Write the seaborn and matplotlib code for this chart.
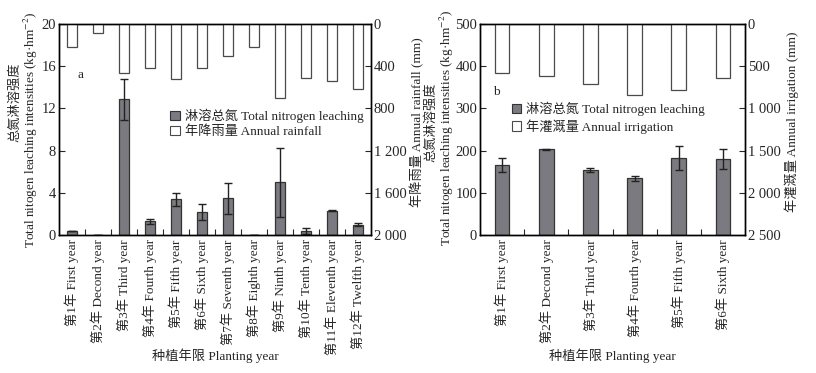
import matplotlib
matplotlib.use("Agg")
import matplotlib.pyplot as plt
import numpy as np
import pandas as pd
import seaborn as sns
from matplotlib.patches import Patch
from matplotlib.ticker import FuncFormatter, MultipleLocator, FixedLocator

# panel a: 12 planting years
years_a = ["第1年 First year", "第2年 Decond year", "第3年 Third year", "第4年 Fourth year",
           "第5年 Fifth year", "第6年 Sixth year", "第7年 Seventh year", "第8年 Eighth year",
           "第9年 Ninth year", "第10年 Tenth year", "第11年 Eleventh year", "第12年 Twelfth year"]
leach_a = [0.35, 0.0, 12.86, 1.3, 3.37, 2.19, 3.46, 0.0, 5.0, 0.35, 2.3, 0.98]
leach_err_a = [0.0, 0.0, 1.95, 0.22, 0.6, 0.78, 1.47, 0.0, 3.27, 0.3, 0.05, 0.15]
rain_a = [222, 86, 467, 413, 524, 413, 302, 222, 698, 508, 540, 619]

# panel b: 6 planting years
years_b = ["第1年 First year", "第2年 Decond year", "第3年 Third year",
           "第4年 Fourth year", "第5年 Fifth year", "第6年 Sixth year"]
leach_b = [166, 203, 154, 134, 182, 180]
leach_err_b = [16, 1, 4.5, 5.5, 28, 23]
irrig_b = [583, 622, 709, 846, 787, 638]

sns.set_style("ticks")
plt.rcParams["font.family"] = ["Liberation Serif", "Noto Sans CJK SC", "DejaVu Sans"]
plt.rcParams["mathtext.fontset"] = "stix"
plt.rcParams["font.size"] = 9.5
plt.rcParams["axes.linewidth"] = 1.0
plt.rcParams["xtick.direction"] = "in"
plt.rcParams["ytick.direction"] = "in"

BAR = "#7b7a80"
EDGE = "#333333"
W = 816
H = 373


def space_fmt(v, pos):
    return f"{v:,.0f}".replace(",", " ")


def panel(ax, cats, leach, err, water, ymax, ystep, wmax, wstep, width):
    df = pd.DataFrame({"year": cats, "leach": leach, "water": water})
    sns.barplot(data=df, x="year", y="leach", ax=ax, color=BAR, edgecolor=EDGE,
                linewidth=0.9, width=width, saturation=1, errorbar=None)
    ax.errorbar(np.arange(len(cats)), leach, yerr=err, fmt="none", ecolor="#222222",
                elinewidth=1.0, capsize=3, capthick=1.0)
    ax.set_ylim(0, ymax)
    ax.yaxis.set_major_locator(MultipleLocator(ystep))
    ax.set_xlim(-0.5, len(cats) - 0.5)
    ax.set_xlabel("")
    ax.set_ylabel("")
    ax.tick_params(axis="x", length=0, pad=3)
    ax.set_xticks(np.arange(len(cats)))
    ax.set_xticklabels(cats, rotation=90, va="top", ha="center")
    ax.xaxis.set_minor_locator(FixedLocator(np.arange(0.5, len(cats) - 0.5, 1)))
    ax.tick_params(axis="x", which="minor", length=4, width=0.8)
    ax.tick_params(axis="y", length=4, width=0.8, pad=2, labelsize=10.5)

    ax2 = ax.twinx()
    sns.barplot(data=df, x="year", y="water", ax=ax2, color="white", edgecolor="#4a4a4a",
                linewidth=0.9, width=width, saturation=1, errorbar=None)
    ax2.set_ylim(wmax, 0)
    ax2.yaxis.set_major_locator(MultipleLocator(wstep))
    ax2.yaxis.set_major_formatter(FuncFormatter(space_fmt))
    ax2.set_ylabel("")
    ax2.set_xlim(-0.5, len(cats) - 0.5)
    ax2.tick_params(axis="y", length=4, width=0.8, pad=2, labelsize=10.5)
    for a in (ax, ax2):
        for s in a.spines.values():
            s.set_visible(True)
            s.set_color("black")
    return ax2


fig = plt.figure(figsize=(W / 100, H / 100), dpi=100)
ax_a = fig.add_axes([59 / W, 1 - 235 / H, (371 - 59) / W, (235 - 24) / H])
ax_b = fig.add_axes([480 / W, 1 - 235 / H, (745 - 480) / W, (235 - 24) / H])

panel(ax_a, years_a, leach_a, leach_err_a, rain_a, 20, 4, 2000, 400, 0.36)
panel(ax_b, years_b, leach_b, leach_err_b, irrig_b, 500, 100, 2500, 500, 0.33)

ylab_en = "Total nitogen leaching intensities (kg·hm$^{-2}$)"
ylab_cn = "总氮淋溶强度"
fig.text(31 / W, 1 - 130 / H, ylab_en, rotation=90, ha="center", va="center")
fig.text(15 / W, 1 - 102 / H, ylab_cn, rotation=90, ha="center", va="center", fontsize=9.5)
fig.text(447 / W, 1 - 128 / H, ylab_en, rotation=90, ha="center", va="center")
fig.text(431 / W, 1 - 122 / H, ylab_cn, rotation=90, ha="center", va="center", fontsize=9.5)
fig.text(417 / W, 1 - 122 / H, "年降雨量 Annual rainfall (mm)", rotation=90, ha="center", va="center")
fig.text(792 / W, 1 - 122 / H, "年灌溉量 Annual irrigation (mm)", rotation=90, ha="center", va="center")
fig.text(215 / W, 1 - 356 / H, "种植年限 Planting year", ha="center", va="center")
fig.text(612 / W, 1 - 356 / H, "种植年限 Planting year", ha="center", va="center")

ax_a.text(0.07, 0.76, "a", transform=ax_a.transAxes, ha="center", va="center")
ax_b.text(0.06, 0.68, "b", transform=ax_b.transAxes, ha="center", va="center")

h_n = Patch(facecolor=BAR, edgecolor=EDGE, linewidth=0.8)
h_w = Patch(facecolor="white", edgecolor="#4a4a4a", linewidth=0.8)
ax_a.legend([h_n, h_w], ["淋溶总氮 Total nitrogen leaching", "年降雨量 Annual rainfall"],
            loc="upper left", bbox_to_anchor=(0.34, 0.625), frameon=False,
            handlelength=0.7, handleheight=0.7, handletextpad=0.4, borderaxespad=0,
            labelspacing=0.2)
ax_b.legend([h_n, h_w], ["淋溶总氮 Total nitrogen leaching", "年灌溉量 Annual irrigation"],
            loc="upper left", bbox_to_anchor=(0.10, 0.655), frameon=False,
            handlelength=0.7, handleheight=0.7, handletextpad=0.4, borderaxespad=0,
            labelspacing=0.2)

fig.savefig("out.png", dpi=100)
